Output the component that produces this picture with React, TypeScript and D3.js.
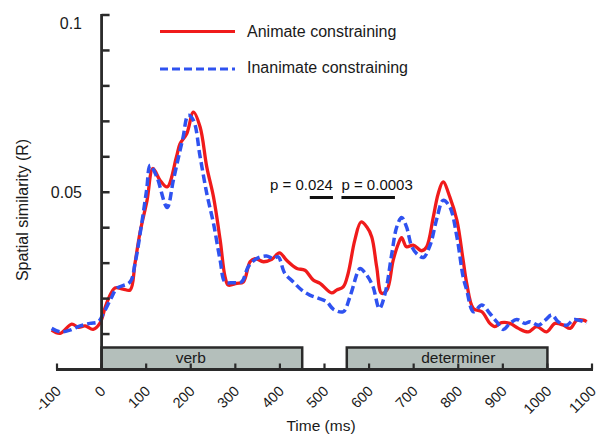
import React from "react";
import * as d3 from "d3";

// ---- data ----
const animate: [number, number][] = [
  [-112, 0.0111], [-93, 0.0102], [-67, 0.0128], [-52, 0.0119], [-37, 0.0123], [-19, 0.0113],
  [-4, 0.013], [11, 0.0186], [30, 0.023], [48, 0.0227], [64, 0.0224], [75, 0.03], [86, 0.0385],
  [102, 0.0477], [115, 0.0567], [131, 0.0534], [147, 0.0515], [168, 0.06], [176, 0.0637],
  [191, 0.0665], [206, 0.0726], [221, 0.0684], [236, 0.0571], [251, 0.0487], [266, 0.0365],
  [277, 0.0261], [284, 0.0238], [303, 0.0243], [318, 0.0247], [333, 0.0304], [344, 0.0313],
  [363, 0.0304], [382, 0.0311], [399, 0.0329], [415, 0.0308], [438, 0.0285], [456, 0.028],
  [475, 0.0252], [490, 0.0243], [516, 0.0216], [527, 0.0224], [542, 0.0233], [553, 0.0271],
  [568, 0.0365], [582, 0.0416], [595, 0.0402], [606, 0.0374], [617, 0.029], [628, 0.0215],
  [640, 0.0224], [654, 0.0308], [666, 0.0356], [673, 0.0372], [684, 0.0346], [699, 0.0351],
  [718, 0.0335], [729, 0.0346], [744, 0.043], [755, 0.0496], [766, 0.0529], [781, 0.0487],
  [797, 0.0421], [811, 0.0308], [819, 0.0243], [834, 0.0172], [853, 0.0163], [871, 0.013],
  [882, 0.0121], [897, 0.0132], [916, 0.013], [935, 0.0116], [957, 0.0106], [976, 0.0121],
  [998, 0.0106], [1017, 0.013], [1036, 0.0125], [1051, 0.0116], [1066, 0.0139], [1081, 0.0139],
  [1088, 0.0135],
];

const inanimate: [number, number][] = [
  [-112, 0.0116], [-93, 0.0106], [-71, 0.0111], [-48, 0.0123], [-26, 0.013], [-7, 0.0135],
  [4, 0.0158], [23, 0.0205], [34, 0.0229], [64, 0.0247], [75, 0.0299], [90, 0.0412],
  [101, 0.0506], [109, 0.0576], [124, 0.0543], [147, 0.0457], [161, 0.0534], [176, 0.0618],
  [183, 0.0656], [194, 0.0717], [206, 0.0703], [221, 0.06], [236, 0.0496], [251, 0.0412],
  [266, 0.0308], [277, 0.0247], [295, 0.0245], [314, 0.0247], [329, 0.029], [348, 0.0313],
  [370, 0.032], [385, 0.0313], [396, 0.0318], [411, 0.0271], [430, 0.0247], [449, 0.0224],
  [467, 0.021], [486, 0.0201], [505, 0.0191], [520, 0.017], [542, 0.0163], [557, 0.0205],
  [576, 0.028], [580, 0.0285], [595, 0.0266], [609, 0.0233], [623, 0.0172], [636, 0.0215],
  [651, 0.0327], [662, 0.0402], [673, 0.0429], [684, 0.0402], [696, 0.0346], [710, 0.0323],
  [722, 0.0316], [737, 0.0351], [752, 0.0426], [766, 0.0477], [781, 0.0459], [797, 0.0374],
  [811, 0.0261], [819, 0.0224], [834, 0.0163], [853, 0.0182], [871, 0.0158], [886, 0.0135],
  [901, 0.0113], [916, 0.013], [931, 0.0141], [950, 0.013], [961, 0.0135], [980, 0.0125],
  [995, 0.0139], [1010, 0.0154], [1024, 0.0135], [1043, 0.0125], [1060, 0.0141], [1081, 0.0135],
  [1088, 0.0131],
];

const xTicks = [-100, 0, 100, 200, 300, 400, 500, 600, 700, 800, 900, 1000, 1100];
const yTicks = [0.01, 0.02, 0.03, 0.04, 0.05, 0.06, 0.07, 0.08, 0.09, 0.1];
const yLabelTicks = [0.05, 0.1];

const segments = [
  { label: "verb", start: 0, end: 450, mid: 200 },
  { label: "determiner", start: 550, end: 1000, mid: 800 },
];

const pValues = [
  { label: "p = 0.024", start: 467, end: 519, anchor: "end" },
  { label: "p = 0.0003", start: 538, end: 658, anchor: "start" },
];

const legendItems = [
  { label: "Animate constraining", color: "#f01b1b", dash: "none" },
  { label: "Inanimate constraining", color: "#2f52f0", dash: "8,4" },
];

const FONT = "'Liberation Sans', Arial, sans-serif";
const AXIS = "#2a2a2a";

export default function App() {
  const x = d3.scaleLinear().domain([-100, 1100]).range([57, 592]);
  const y = d3.scaleLinear().domain([0, 0.1]).range([369.5, 15]);

  const line = d3
    .line<[number, number]>()
    .x((d) => x(d[0]))
    .y((d) => y(d[1]))
    .curve(d3.curveCatmullRom.alpha(0.5));

  const axisY = y(0);
  const x0 = x(0);

  return (
    <svg
      width={613}
      height={440}
      style={{ position: "absolute", left: 0, top: 0, background: "#fff" }}
      fontFamily={FONT}
    >
      <rect x={0} y={0} width={613} height={440} fill="#fff" />

      {/* legend */}
      {legendItems.map((d, i) => {
        const ly = i === 0 ? 31.5 : 69;
        return (
          <g key={d.label}>
            <line
              x1={160}
              x2={235}
              y1={ly}
              y2={ly}
              stroke={d.color}
              strokeWidth={3.2}
              strokeDasharray={d.dash}
            />
            <text x={247} y={i === 0 ? 36.5 : 73} fontSize={16} fill="#1a1a1a">
              {d.label}
            </text>
          </g>
        );
      })}

      {/* curves */}
      <path d={line(animate) || ""} fill="none" stroke={legendItems[0].color} strokeWidth={3.3} strokeLinejoin="round" />
      <path
        d={line(inanimate) || ""}
        fill="none"
        stroke={legendItems[1].color}
        strokeWidth={3.5}
        strokeDasharray="8.5,4"
      />

      {/* p-value annotations */}
      {pValues.map((p) => (
        <g key={p.label}>
          <line x1={x(p.start)} x2={x(p.end)} y1={197.5} y2={197.5} stroke="#111" strokeWidth={3} />
          <text
            x={p.anchor === "end" ? x(p.end) : x(p.start)}
            y={190}
            fontSize={15}
            textAnchor={p.anchor as any}
            fill="#111"
          >
            {p.label}
          </text>
        </g>
      ))}

      {/* segment boxes */}
      {segments.map((s) => (
        <g key={s.label}>
          <rect
            x={x(s.start)}
            y={347.5}
            width={x(s.end) - x(s.start)}
            height={axisY - 347.5}
            fill="#b4bfbb"
            stroke={AXIS}
            strokeWidth={2.5}
          />
          <text x={x(s.mid)} y={362.5} fontSize={15.5} textAnchor="middle" fill="#1a1a1a">
            {s.label}
          </text>
        </g>
      ))}

      {/* y axis */}
      <line x1={x0} x2={x0} y1={14} y2={axisY} stroke={AXIS} strokeWidth={2.8} />
      {yTicks.map((t) => (
        <line key={t} x1={x0} x2={x0 + 8} y1={y(t)} y2={y(t)} stroke={AXIS} strokeWidth={2.5} />
      ))}
      {yLabelTicks.map((t) => (
        <text
          key={t}
          x={82}
          y={Math.max(y(t), 23)}
          dy="0.35em"
          fontSize={16}
          textAnchor="end"
          fill="#1a1a1a"
        >
          {d3.format("")(t)}
        </text>
      ))}
      <text
        transform={`translate(28,${y(0.045)}) rotate(-90)`}
        textAnchor="middle"
        fontSize={16}
        fill="#1a1a1a"
      >
        Spatial similarity (R)
      </text>

      {/* x axis */}
      <line x1={x(-100) - 1} x2={x(1100) + 1} y1={axisY} y2={axisY} stroke={AXIS} strokeWidth={2.8} />
      {xTicks.map((t) => (
        <line key={t} x1={x(t)} x2={x(t)} y1={axisY} y2={axisY - 6} stroke={AXIS} strokeWidth={2.2} />
      ))}
      {xTicks.map((t) => (
        <text
          key={"l" + t}
          transform={`translate(${x(t) + 5},392) rotate(-45)`}
          textAnchor="end"
          fontSize={14.5}
          fill="#1a1a1a"
        >
          {t}
        </text>
      ))}
      <text x={321} y={431} textAnchor="middle" fontSize={15.5} fill="#1a1a1a">
        Time (ms)
      </text>
    </svg>
  );
}
